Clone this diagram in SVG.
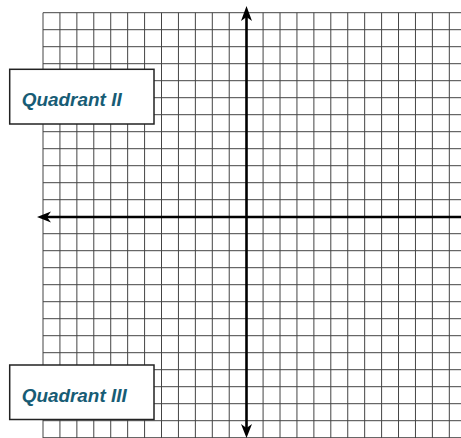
<svg xmlns="http://www.w3.org/2000/svg" width="461" height="438" viewBox="0 0 461 438">
<style>
.grid line{stroke:#444;stroke-width:1}
.axis{stroke:#000;stroke-width:2.6;fill:none}
.head{fill:#000}
.box rect{fill:#fff;stroke:#222;stroke-width:1.5}
.box text{font-family:"Liberation Sans",Arial,sans-serif;font-weight:bold;font-style:italic;font-size:19px;fill:#175c75}
</style>
<rect width="461" height="438" fill="#fff"/>
<g class="grid" id="grid">
<line x1="43" y1="12.7" x2="43" y2="438"/>
<line x1="59.93" y1="12.7" x2="59.93" y2="438"/>
<line x1="76.86" y1="12.7" x2="76.86" y2="438"/>
<line x1="93.79" y1="12.7" x2="93.79" y2="438"/>
<line x1="110.72" y1="12.7" x2="110.72" y2="438"/>
<line x1="127.65" y1="12.7" x2="127.65" y2="438"/>
<line x1="144.58" y1="12.7" x2="144.58" y2="438"/>
<line x1="161.51" y1="12.7" x2="161.51" y2="438"/>
<line x1="178.44" y1="12.7" x2="178.44" y2="438"/>
<line x1="195.37" y1="12.7" x2="195.37" y2="438"/>
<line x1="212.3" y1="12.7" x2="212.3" y2="438"/>
<line x1="229.23" y1="12.7" x2="229.23" y2="438"/>
<line x1="263.09" y1="12.7" x2="263.09" y2="438"/>
<line x1="280.02" y1="12.7" x2="280.02" y2="438"/>
<line x1="296.95" y1="12.7" x2="296.95" y2="438"/>
<line x1="313.88" y1="12.7" x2="313.88" y2="438"/>
<line x1="330.81" y1="12.7" x2="330.81" y2="438"/>
<line x1="347.74" y1="12.7" x2="347.74" y2="438"/>
<line x1="364.67" y1="12.7" x2="364.67" y2="438"/>
<line x1="381.6" y1="12.7" x2="381.6" y2="438"/>
<line x1="398.53" y1="12.7" x2="398.53" y2="438"/>
<line x1="415.46" y1="12.7" x2="415.46" y2="438"/>
<line x1="432.39" y1="12.7" x2="432.39" y2="438"/>
<line x1="449.32" y1="12.7" x2="449.32" y2="438"/>
<line x1="43" y1="12.7" x2="461" y2="12.7"/>
<line x1="43" y1="29.7" x2="461" y2="29.7"/>
<line x1="43" y1="46.7" x2="461" y2="46.7"/>
<line x1="43" y1="63.7" x2="461" y2="63.7"/>
<line x1="43" y1="80.7" x2="461" y2="80.7"/>
<line x1="43" y1="97.7" x2="461" y2="97.7"/>
<line x1="43" y1="114.7" x2="461" y2="114.7"/>
<line x1="43" y1="131.7" x2="461" y2="131.7"/>
<line x1="43" y1="148.7" x2="461" y2="148.7"/>
<line x1="43" y1="165.7" x2="461" y2="165.7"/>
<line x1="43" y1="182.7" x2="461" y2="182.7"/>
<line x1="43" y1="199.7" x2="461" y2="199.7"/>
<line x1="43" y1="233.7" x2="461" y2="233.7"/>
<line x1="43" y1="250.7" x2="461" y2="250.7"/>
<line x1="43" y1="267.7" x2="461" y2="267.7"/>
<line x1="43" y1="284.7" x2="461" y2="284.7"/>
<line x1="43" y1="301.7" x2="461" y2="301.7"/>
<line x1="43" y1="318.7" x2="461" y2="318.7"/>
<line x1="43" y1="335.7" x2="461" y2="335.7"/>
<line x1="43" y1="352.7" x2="461" y2="352.7"/>
<line x1="43" y1="369.7" x2="461" y2="369.7"/>
<line x1="43" y1="386.7" x2="461" y2="386.7"/>
<line x1="43" y1="403.7" x2="461" y2="403.7"/>
<line x1="43" y1="420.7" x2="461" y2="420.7"/>
<line x1="43" y1="437.7" x2="461" y2="437.7"/>
</g>
<g id="connectors">
<line class="axis" x1="246.5" y1="14" x2="246.5" y2="430"/>
<line class="axis" x1="45" y1="217" x2="461" y2="217"/>
<path class="head" d="M246.5 6 L252 21 L246.5 17 L241 21 Z"/>
<path class="head" d="M246.5 438 L252 424 L246.5 428 L241 424 Z"/>
<path class="head" d="M37 217 L51 211.5 L47 217 L51 222.5 Z"/>
</g>
<g class="box" id="quadrant-ii">
<rect x="9.7" y="69.3" width="144.3" height="54.7"/>
<text x="21.7" y="105.5" textLength="100" lengthAdjust="spacingAndGlyphs">Quadrant II</text>
</g>
<g class="box" id="quadrant-iii">
<rect x="9.7" y="365" width="144.3" height="54.5"/>
<text x="21.7" y="402.3" textLength="105" lengthAdjust="spacingAndGlyphs">Quadrant III</text>
</g>
</svg>
